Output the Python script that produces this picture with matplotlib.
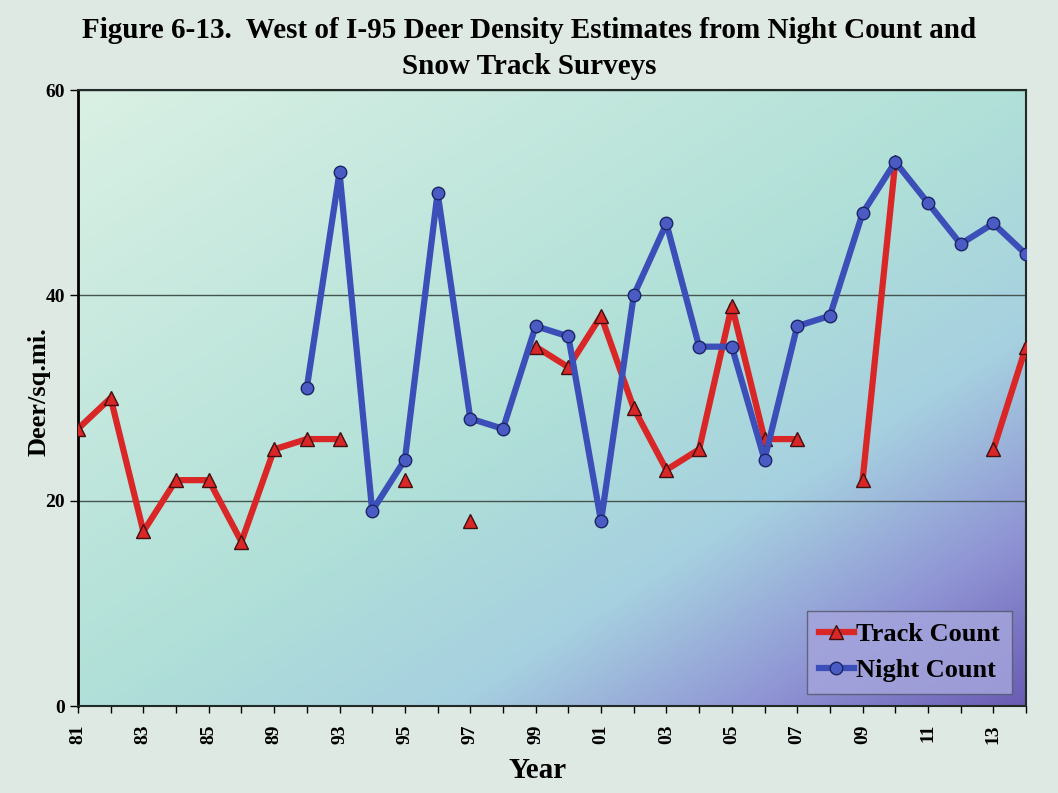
import numpy as np
import matplotlib.pyplot as plt
from matplotlib.colors import LinearSegmentedColormap

plt.rcParams['font.family'] = ['Liberation Serif', 'DejaVu Serif']
plt.rcParams['font.weight'] = 'bold'

nan = np.nan
years = ['81', '82', '83', '84', '85', '87', '89', '91', '93', '94', '95', '96',
         '97', '98', '99', '00', '01', '02', '03', '04', '05', '06', '07', '08',
         '09', '10', '11', '12', '13', '14']
track = [27, 30, 17, 22, 22, 16, 25, 26, 26, nan, 22, nan,
         18, nan, 35, 33, 38, 29, 23, 25, 39, 26, 26, nan,
         22, 53, nan, nan, 25, 35]
night = [nan, nan, nan, nan, nan, nan, nan, 31, 52, 19, 24, 50,
         28, 27, 37, 36, 18, 40, 47, 35, 35, 24, 37, 38,
         48, 53, 49, 45, 47, 44]

x = np.arange(len(years))

fig = plt.figure(figsize=(10.58, 7.93), dpi=100)
fig.patch.set_facecolor('#dfe9e4')
ax = fig.add_axes([0.0737, 0.1097, 0.8961, 0.7768])

# gradient background: light mint top-left -> purple bottom-right
cmap = LinearSegmentedColormap.from_list('bg', [
    (0.0, '#daf0e4'), (0.5, '#b0e0d8'), (0.7, '#a6d0e0'),
    (0.86, '#8f94d4'), (1.0, '#6a5cb4')])
gx, gy = np.meshgrid(np.linspace(0, 1, 300), np.linspace(0, 1, 300))
grad = 0.5 * (gx + gy)
ax.imshow(grad, cmap=cmap, extent=[0, 1, 0, 1], origin='upper',
          transform=ax.transAxes, aspect='auto', zorder=0, vmin=0, vmax=1)

ax.plot(x, track, color='#d92626', lw=4.5, marker='^', ms=10,
        mfc='#d92626', mec='#401010', mew=1, label='Track Count', zorder=3)
ax.plot(x, night, color='#3c4fb8', lw=4.5, marker='o', ms=9,
        mfc='#4a5cc4', mec='#1c2466', mew=1, label='Night Count', zorder=4)

ax.set_xlim(0, len(years) - 1)
ax.set_ylim(0, 60)
ax.set_yticks([0, 20, 40, 60])
ax.set_xticks(x)
ax.set_xticklabels([y if i % 2 == 0 else '' for i, y in enumerate(years)],
                   rotation=90, fontsize=14, fontweight='bold')
ax.tick_params(axis='y', labelsize=14, length=6, width=1)
ax.tick_params(axis='x', length=5, width=1, pad=8)
for t in ax.get_yticklabels():
    t.set_fontweight('bold')
ax.grid(axis='y', color='#44554f', lw=1)
for g in ax.get_ygridlines():
    g.set_zorder(1)

for s in ax.spines.values():
    s.set_color('#222a28')
    s.set_linewidth(1.5)
ax.spines['left'].set_color('black')
ax.spines['left'].set_linewidth(2)

ax.set_xlabel('Year', fontsize=21, fontweight='bold')
ax.xaxis.set_label_coords(0.485, -0.083)
ax.set_ylabel('Deer/sq.mi.', fontsize=19, fontweight='bold')
ax.yaxis.set_label_coords(-0.029, 0.51)
fig.suptitle('Figure 6-13.  West of I-95 Deer Density Estimates from Night Count and\nSnow Track Surveys',
             fontsize=21, fontweight='bold', y=0.978, linespacing=1.4)

leg = ax.legend(loc='lower right', bbox_to_anchor=(0.985, 0.02), fontsize=19,
                frameon=True, fancybox=False, handlelength=1.3, handletextpad=0.1,
                borderpad=0.45, labelspacing=0.45, borderaxespad=0)
leg.get_frame().set_facecolor('#a4a4dc')
leg.get_frame().set_edgecolor('#555a70')
leg.get_frame().set_alpha(0.85)

plt.savefig('out.png', dpi=100, facecolor=fig.get_facecolor())
plt.close()
